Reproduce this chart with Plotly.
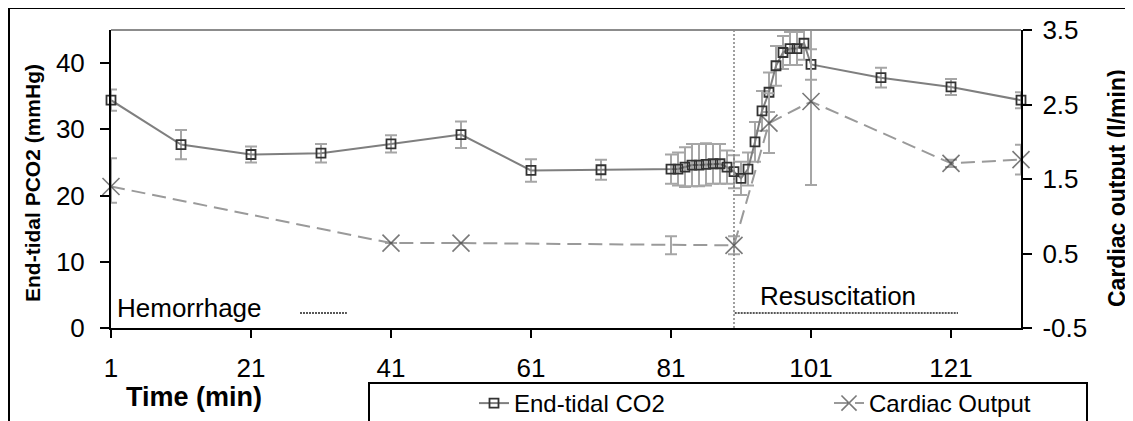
import plotly.graph_objects as go

# ---- data ----
co2_time = [1, 11, 21, 31, 41, 51, 61, 71, 81, 82, 83, 84, 85, 86, 87, 88, 89, 90,
            91, 92, 93, 94, 95, 96, 97, 98, 99, 100, 101, 111, 121, 131]
co2_value = [34.4, 27.7, 26.2, 26.4, 27.8, 29.2, 23.8, 23.9, 24.0, 24.0, 24.3, 24.6,
             24.6, 24.7, 24.8, 24.8, 24.3, 23.6, 22.6, 24.0, 28.1, 32.8, 35.6, 39.6,
             41.6, 42.2, 42.2, 43.0, 39.8, 37.8, 36.4, 34.4]
co2_error = [1.6, 2.2, 1.2, 1.4, 1.3, 2.0, 1.7, 1.5, 2.2, 2.5, 3.0, 3.2, 3.2, 3.2, 3.0,
             3.0, 2.5, 2.5, 2.5, 2.5, 3.0, 3.0, 3.0, 3.0, 2.5, 2.5, 2.5, 2.5, 2.3, 1.5,
             1.2, 1.2]

co_time = [1, 41, 51, 81, 90, 95, 101, 121, 131]
co_value = [1.40, 0.64, 0.64, 0.61, 0.61, 2.25, 2.54, 1.71, 1.76]
co_err_plus = [0.38, 0.0, 0.0, 0.12, 0.12, 0.40, 1.10, 0.05, 0.20]
co_err_minus = [0.22, 0.0, 0.0, 0.12, 0.12, 0.40, 1.12, 0.05, 0.20]
co_marker_shown = [1, 1, 1, 0, 1, 1, 1, 1, 1]

x_ticks = [1, 21, 41, 61, 81, 101, 121]
left_ticks = [0, 10, 20, 30, 40]
right_ticks = [-0.5, 0.5, 1.5, 2.5, 3.5]

phase_start = 90
FONT = "Arial, Liberation Sans, sans-serif"

# ---- figure geometry (page px; page has an 8px body margin) ----
OFF = 8
W, H = 1133 - OFF, 421 - OFF
PL, PR, PT, PB = 111, 1021, 30, 328          # plot area in page px
L, T = PL - OFF, PT - OFF
R, B = W - (PR - OFF), H - (PB - OFF)
PW, PH = PR - PL, PB - PT


def px_x(p):
    return (p - PL) / PW


def px_y(p):
    return (PB - p) / PH


fig = go.Figure()

fig.add_trace(go.Scatter(
    x=co2_time, y=co2_value, name="End-tidal CO2", mode="lines+markers",
    line=dict(color="#7f7f7f", width=2),
    marker=dict(symbol="square-open", size=9, color="#333333", line=dict(width=1.8)),
    error_y=dict(type="data", array=co2_error, color="#a6a6a6", thickness=2, width=6),
    cliponaxis=False, yaxis="y"))

fig.add_trace(go.Scatter(
    x=co_time, y=co_value, name="Cardiac Output", mode="lines+markers",
    line=dict(color="#9a9a9a", width=2, dash="14px,7px"),
    marker=dict(symbol="x-thin-open", size=[17 * s for s in co_marker_shown],
                color="#404040", line=dict(width=1.6)),
    error_y=dict(type="data", array=co_err_plus, arrayminus=co_err_minus,
                 color="#a6a6a6", thickness=2, width=6),
    cliponaxis=False, yaxis="y2"))

# vertical phase line and phase markers
fig.add_shape(type="line", xref="x", yref="y", x0=phase_start, x1=phase_start,
              y0=0, y1=45, line=dict(color="#808080", width=1.5, dash="2px,2px"))
fig.add_shape(type="line", xref="x", yref="y", x0=90.1, x1=122, y0=2.27, y1=2.27,
              line=dict(color="#222222", width=1.5, dash="2px,1px"))
fig.add_shape(type="line", xref="x", yref="y", x0=28, x1=34.7, y0=2.27, y1=2.27,
              line=dict(color="#222222", width=1.5, dash="2px,1px"))

# top border of plot area (gray)
fig.add_shape(type="line", xref="paper", yref="paper", x0=0, x1=1, y0=1, y1=1,
              line=dict(color="#8c8c8c", width=2))
# outer chart border
fig.add_shape(type="rect", xref="paper", yref="paper",
              x0=px_x(9), x1=px_x(1145), y0=px_y(440), y1=px_y(8),
              line=dict(color="black", width=2), layer="below")
# legend box
fig.add_shape(type="rect", xref="paper", yref="paper",
              x0=px_x(369), x1=px_x(1087), y0=px_y(440), y1=px_y(383),
              line=dict(color="black", width=2), layer="below")

fig.add_annotation(x=1.6, y=3.0, xref="x", yref="y", text="Hemorrhage",
                   showarrow=False, xanchor="left", yanchor="middle",
                   font=dict(family=FONT, size=26, color="black"))
fig.add_annotation(x=93.4, y=4.85, xref="x", yref="y", text="Resuscitation",
                   showarrow=False, xanchor="left", yanchor="middle",
                   font=dict(family=FONT, size=26, color="black"))

fig.add_annotation(x=px_x(32), y=px_y(183), xref="paper", yref="paper",
                   text="<b>End-tidal PCO2 (mmHg)</b>", textangle=-90, showarrow=False,
                   xanchor="center", yanchor="middle",
                   font=dict(family=FONT, size=21, color="black"))
fig.add_annotation(x=px_x(1117), y=px_y(188), xref="paper", yref="paper",
                   text="<b>Cardiac output (l/min)</b>", textangle=-90, showarrow=False,
                   xanchor="center", yanchor="middle",
                   font=dict(family=FONT, size=23, color="black"))
fig.add_annotation(x=px_x(194), y=px_y(397), xref="paper", yref="paper",
                   text="<b>Time (min)</b>", showarrow=False,
                   xanchor="center", yanchor="middle",
                   font=dict(family=FONT, size=27, color="black"))

fig.update_layout(
    width=W, height=H, margin=dict(l=L, r=R, t=T, b=B, autoexpand=False),
    paper_bgcolor="white", plot_bgcolor="white",
    font=dict(family=FONT, color="black"),
    xaxis=dict(range=[1, 131], tickvals=x_ticks, showgrid=False, zeroline=False,
               showline=True, linecolor="black", linewidth=2, ticks="outside",
               ticklen=8, tickwidth=2, tickcolor="black",
               tickfont=dict(size=26, family=FONT), ticklabelstandoff=8),
    yaxis=dict(range=[0, 45], tickvals=left_ticks, showgrid=False, zeroline=False,
               showline=True, linecolor="black", linewidth=2, ticks="outside",
               ticklen=9, tickwidth=2, tickcolor="black",
               tickfont=dict(size=26, family=FONT), ticklabelstandoff=10),
    yaxis2=dict(range=[-0.5, 3.5], tickvals=right_ticks,
                ticktext=["\u2009" + f"{v:g}" for v in right_ticks],
                overlaying="y", side="right",
                showgrid=False, zeroline=False, showline=True, linecolor="black",
                linewidth=2, ticks="outside", ticklen=9, tickwidth=2, tickcolor="black",
                tickfont=dict(size=26, family=FONT)),
    legend=dict(orientation="h", x=px_x(474), y=px_y(381), xanchor="left",
                yanchor="top", entrywidth=310, bgcolor="rgba(0,0,0,0)",
                borderwidth=0, font=dict(family=FONT, size=24, color="black")),
    showlegend=True,
)

fig.write_html("out.html")
